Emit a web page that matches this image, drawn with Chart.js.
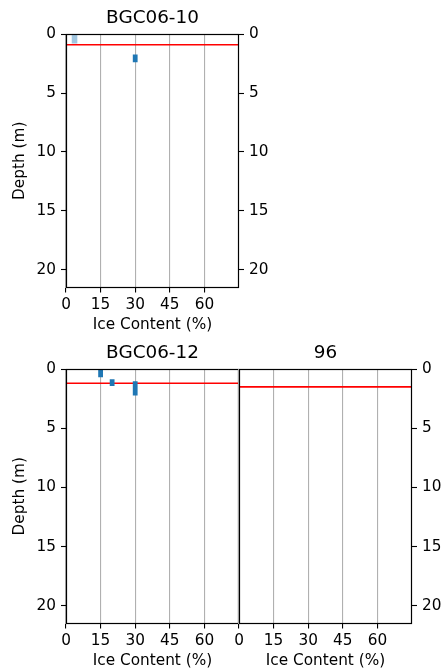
<!DOCTYPE html>
<html><head><meta charset="utf-8">
<script src="https://cdn.jsdelivr.net/npm/chart.js@4/dist/chart.umd.min.js"></script>
<style>
html,body{margin:0;padding:0;background:#fff;width:443px;height:671px;overflow:hidden;position:relative}
canvas{position:absolute}
</style></head><body>
<canvas id="c1" width="300" height="335" style="left:0;top:0"></canvas>
<canvas id="c2" width="239" height="336" style="left:0;top:335px"></canvas>
<canvas id="c3" width="219" height="336" style="left:224px;top:335px"></canvas>
<script>
// ---- data ----
const panelTitles = ['BGC06-10', 'BGC06-12', '96'];
const xTicks = [0, 15, 30, 45, 60];
const yTicks = [0, 5, 10, 15, 20];
const xMax = 75;
const depthMax = 21.5;
const frostDepth = [0.9, 1.2, 1.5];
// BGC06-10
const p1LightX = [3.7];
const p1LightTop = [0];
const p1LightBottom = [0.8];
const p1DarkX = [30];
const p1DarkTop = [1.73];
const p1DarkBottom = [2.38];
// BGC06-12
const p2DarkX = [15, 20, 30];
const p2DarkTop = [0, 0.86, 1.03];
const p2DarkBottom = [0.7, 1.43, 2.23];
// 96
const p3DarkX = [];
const p3DarkTop = [];
const p3DarkBottom = [];

// ---- helpers ----
const TICK_FONT = 15.3;
const TITLE_FONT = 18.4;
Chart.defaults.font.family = "'DejaVu Sans', sans-serif";
Chart.defaults.color = '#000';

function segs(xs, tops, bots) {
  const d = [];
  xs.forEach((x, i) => { d.push({x: x, y: tops[i]}, {x: x, y: bots[i]}, {x: x, y: null}); });
  return d;
}

const framePlugin = {
  id: 'frame',
  afterDatasetsDraw(chart) {
    const ctx = chart.ctx, a = chart.chartArea;
    const l = Math.round(a.left), t = Math.round(a.top), r = Math.round(a.right), b = Math.round(a.bottom);
    ctx.save();
    ctx.strokeStyle = '#000';
    ctx.lineWidth = 1.2;
    ctx.strokeRect(l + 0.5, t + 0.5, r - l - 1, b - t - 1);
    ctx.restore();
  }
};

function yAxis(pos, width, withTitle) {
  return {
    type: 'linear', position: pos, reverse: true, min: 0, max: depthMax,
    afterBuildTicks: s => { s.ticks = yTicks.map(v => ({value: v})); },
    afterFit: s => { s.width = width; },
    grid: {drawOnChartArea: false, tickColor: '#000', tickLength: 5, tickWidth: 1.1},
    border: {display: false},
    ticks: {color: '#000', font: {size: TICK_FONT}, padding: 5},
    title: {display: withTitle, text: 'Depth (m)', color: '#000', font: {size: TICK_FONT}, padding: {top: 10.5, bottom: 0}}
  };
}

function xAxis() {
  return {
    type: 'linear', position: 'bottom', min: 0, max: xMax,
    afterBuildTicks: s => { s.ticks = xTicks.map(v => ({value: v})); },
    afterFit: s => { s.height = 47.5; },
    grid: {color: '#b0b0b0', lineWidth: 1.1, tickColor: '#000', tickLength: 5, tickWidth: 1.1},
    border: {display: false},
    ticks: {color: '#000', font: {size: TICK_FONT}, padding: 3, autoSkip: false, maxRotation: 0},
    title: {display: true, text: 'Ice Content (%)', color: '#000', font: {size: TICK_FONT}, padding: {top: 0, bottom: 0.5}}
  };
}

function makeChart(id, title, scales, yId, padLeft, frost, lightData, darkData) {
  const datasets = [
    {data: darkData, yAxisID: yId, xAxisID: 'x', borderColor: '#1f77b4', borderWidth: 4.8,
     borderCapStyle: 'butt', pointRadius: 0, spanGaps: false, order: 0},
    {data: lightData, yAxisID: yId, xAxisID: 'x', borderColor: 'rgba(31,119,180,0.42)', borderWidth: 5.6,
     borderCapStyle: 'butt', pointRadius: 0, spanGaps: false, order: 1},
    {data: [{x: 0, y: frost}, {x: xMax, y: frost}], yAxisID: yId, xAxisID: 'x', borderColor: '#ff0000',
     borderWidth: 1.6, pointRadius: 0, order: 2}
  ];
  return new Chart(document.getElementById(id), {
    type: 'line',
    data: {datasets: datasets},
    options: {
      responsive: false, animation: false, events: [],
      layout: {padding: {left: padLeft, right: 0, top: 0, bottom: 0}},
      plugins: {
        legend: {display: false}, tooltip: {enabled: false},
        title: {display: true, text: title, fullSize: false, color: '#000',
                font: {size: TITLE_FONT, weight: 'normal'}, padding: {top: 7, bottom: 5}}
      },
      scales: scales
    },
    plugins: [framePlugin]
  });
}

makeChart('c1', panelTitles[0],
  {x: xAxis(), y: yAxis('left', 66, true), yr: yAxis('right', 61, false)},
  'y', 0, frostDepth[0],
  segs(p1LightX, p1LightTop, p1LightBottom), segs(p1DarkX, p1DarkTop, p1DarkBottom));

makeChart('c2', panelTitles[1],
  {x: xAxis(), y: yAxis('left', 66, true)},
  'y', 0, frostDepth[1],
  [], segs(p2DarkX, p2DarkTop, p2DarkBottom));

makeChart('c3', panelTitles[2],
  {x: xAxis(), yr: yAxis('right', 31, false)},
  'yr', 15, frostDepth[2],
  [], segs(p3DarkX, p3DarkTop, p3DarkBottom));
</script>
</body></html>
